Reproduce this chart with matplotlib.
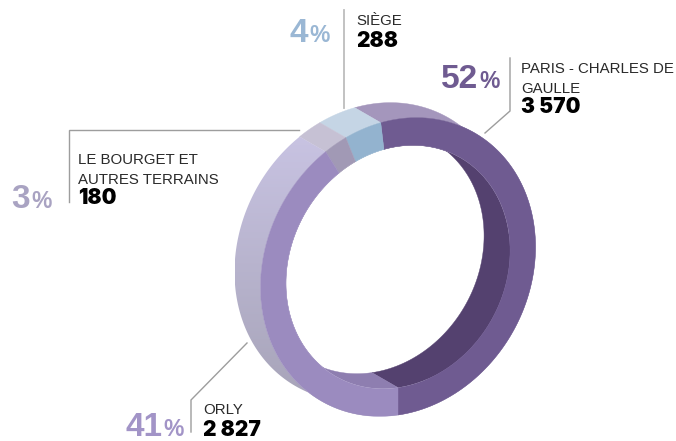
import matplotlib
matplotlib.use("Agg")
import matplotlib.pyplot as plt
from matplotlib.colors import LinearSegmentedColormap
from matplotlib.patches import Polygon
import numpy as np

plt.rcParams['font.family'] = ['Liberation Sans', 'DejaVu Sans']

# ================= Data ===============
names = ["PARIS - CHARLES DE\nGAULLE", "SIÈGE", "LE BOURGET ET\nAUTRES TERRAINS", "ORLY"]
values = [3570, 288, 180, 2827]
value_labels = ["3 570", "288", "180", "2 827"]
percents = ["52", "4", "3", "41"]

front_colors = ["#6f5b91", "#93b3cf", "#a199b5", "#9b8bbf"]
outer_colors = ["#a496bc", "#c5d5e5", "#c6c1d4", "#c5c0de"]
inner_colors = ["#54416f", "#93b3cf", "#a199b5", "#8e7eb0"]
percent_colors = ["#6f5b91", "#9ab7d4", "#a9a3c2", "#a294c7"]

# ================= Ring geometry (pixels) ===============
CX, CY = 398, 267
INNER = 0.815
DEPTH_X, DEPTH_Y = -26, -15


def ring_point(t, scale=1.0, back=False):
    x = CX + scale * 137.5 * np.cos(t)
    y = CY - scale * (20 * np.cos(t) + 148 * np.sin(t))
    if back:
        return x + DEPTH_X, y + DEPTH_Y
    return x, y


def band(t, scale_a, back_a, scale_b, back_b):
    xa, ya = ring_point(t, scale_a, back_a)
    xb, yb = ring_point(t[::-1], scale_b, back_b)
    return np.column_stack([np.concatenate([xa, xb]), np.concatenate([ya, yb])])


def gradient_fill(ax, poly, c_top, c_bottom):
    cmap = LinearSegmentedColormap.from_list("g", [c_top, c_bottom])
    x0, y0 = poly.min(axis=0)
    x1, y1 = poly.max(axis=0)
    grid = np.linspace(0, 1, 256).reshape(-1, 1)
    im = ax.imshow(grid, cmap=cmap, extent=(x0, x1, y1, y0), aspect='auto', zorder=2,
                   interpolation='bilinear')
    patch = Polygon(poly, closed=True, transform=ax.transData, facecolor='none', edgecolor='none')
    ax.add_patch(patch)
    im.set_clip_path(patch)


fig = plt.figure(figsize=(6.76, 4.41), dpi=100)
ax = fig.add_axes([0, 0, 1, 1])

# angles start at the bottom of the ring and run counterclockwise
shares = np.array(values) / sum(values) * 2 * np.pi
starts = -np.pi / 2 + np.concatenate([[0], np.cumsum(shares)[:-1]])

# outer wall, lower order so inner wall and front face cover it
for i in range(len(values)):
    t = np.linspace(starts[i], starts[i] + shares[i], 200)
    poly = band(t, 1, False, 1, True)
    if names[i] == "ORLY":
        gradient_fill(ax, poly, "#c8c3e2", "#a5a2b6")
    else:
        ax.add_patch(Polygon(poly, closed=True, fc=outer_colors[i], ec=outer_colors[i], lw=0.3, zorder=2))

# inner wall, only seen through the front opening
all_t = np.linspace(0, 2 * np.pi, 400)
opening = Polygon(np.column_stack(ring_point(all_t, INNER)), closed=True, transform=ax.transData,
                  fc='none', ec='none')
ax.add_patch(opening)
for i in range(len(values)):
    t = np.linspace(starts[i], starts[i] + shares[i], 200)
    poly = band(t, INNER, False, INNER, True)
    wall = Polygon(poly, closed=True, fc=inner_colors[i], ec=inner_colors[i], lw=0.3, zorder=3)
    ax.add_patch(wall)
    wall.set_clip_path(opening)

# front face
for i in range(len(values)):
    t = np.linspace(starts[i], starts[i] + shares[i], 200)
    poly = band(t, 1, False, INNER, False)
    ax.add_patch(Polygon(poly, closed=True, fc=front_colors[i], ec=front_colors[i], lw=0.3, zorder=4))

# ================= Leader lines ===============
leader = dict(color="#9d9d9d", lw=1.0, zorder=1, solid_joinstyle='miter')
ax.plot([510, 510, 485], [58, 111, 133], **leader)
ax.plot([343.7, 343.7], [10, 108], color="#bdbdbd", lw=1.3, zorder=1)
ax.plot([299, 69, 69], [130, 130, 202], **leader)
ax.plot([247, 191, 191], [343, 400, 432], **leader)

# ================= Text ===============
label_pos = [(521, 73), (356, 25), (78, 164), (203, 414)]
number_pos = [(521, 113), (356, 47), (78, 204), (203, 436)]
digit_pos = [(441, 88), (290, 42), (11, 208), (126, 436)]
pct_pos = [(479, 88), (309, 42), (31, 208), (163, 436)]

for i in range(len(values)):
    x, y = label_pos[i]
    for k, line in enumerate(names[i].split("\n")):
        ax.text(x, y + 20 * k, line, fontsize=10.8, color="#2a2a2a", va='baseline', ha='left')
    x, y = number_pos[i]
    ax.text(x, y, value_labels[i], fontsize=15, family=['Inter', 'Liberation Sans'], fontweight=900,
            color="black", va='baseline', ha='left')
    x, y = digit_pos[i]
    ax.text(x, y, percents[i], fontsize=24, fontweight='bold', color=percent_colors[i], va='baseline', ha='left')
    x, y = pct_pos[i]
    ax.text(x, y, "%", fontsize=16.5, fontweight='bold', color=percent_colors[i], va='baseline', ha='left')

ax.set_xlim(0, 676)
ax.set_ylim(441, 0)
ax.axis('off')

plt.savefig("out.png", dpi=100)
